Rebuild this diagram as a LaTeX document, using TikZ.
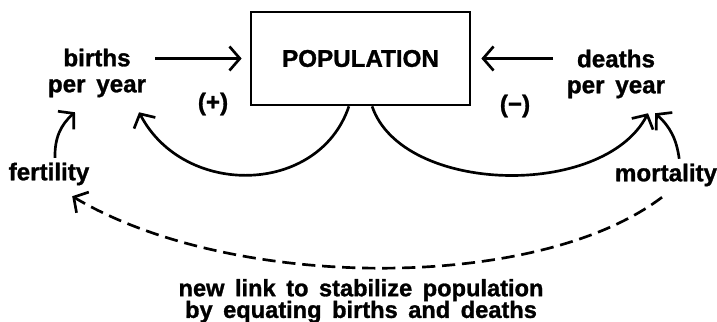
\documentclass[tikz,border=0pt]{standalone}
\usepackage{fontspec}
\setmainfont{Liberation Sans}[WordSpace=1.6, FakeBold=1.2]
\usetikzlibrary{arrows.meta}

\begin{document}
\begin{tikzpicture}[x=0.025cm, y=-0.025cm,
	every node/.style={font=\bfseries\fontsize{17.2}{18.5}\selectfont, align=center},
	link/.style={line width=1.9pt, -{Straight Barb[length=2.6mm, width=6mm]}}]
	\useasboundingbox (0,0) rectangle (717,322);
	\node[draw, line width=1.9pt, minimum width=5.475cm, minimum height=2.325cm, inner sep=0pt] (pop) at (360.5,58.5) {POPULATION};
	\node (births) at (97,73) {births\\per year};
	\node (deaths) at (616,74) {deaths\\per year};
	\node (fertility) at (49,174) {fertility};
	\node (mortality) at (666,175) {mortality};
	\node (plus) at (213,104) {(+)};
	\node (minus) at (515,106) {(−)};
	\node[font=\bfseries\fontsize{16.8}{18}\selectfont] (newlink) at (361,301) {new link to stabilize population\\[-2.6pt]by equating births and deaths};
	\draw[link] ([xshift=0.1cm]births.east |- pop.west) -- ([xshift=-0.2cm]pop.west);
	\draw[link] ([xshift=-0.22cm]deaths.west |- pop.east) -- ([xshift=0.25cm]pop.east);
	\draw[link] ([xshift=-0.29cm]pop.south) .. controls +(-30,89) and +(45,86) .. ([shift={(-0.3cm,-0.25cm)}]births.south east);
	\draw[link] ([xshift=0.29cm]pop.south) .. controls +(30,88) and +(-45,86) .. ([shift={(-0.55cm,-0.25cm)}]deaths.south east);
	\draw[link] ([xshift=0.15cm]fertility.north) to[bend left=25] ([shift={(-0.55cm,-0.25cm)}]births.south);
	\draw[link] ([xshift=0.33cm]mortality.north) to[bend right=20] ([shift={(0.98cm,-0.25cm)}]deaths.south);
	\draw[link, dash pattern=on 0.33cm off 0.17cm] ([shift={(-0.1cm,-0.15cm)}]mortality.south) .. controls +(-125,95) and +(160,95) .. ([shift={(0.58cm,-0.15cm)}]fertility.south);
\end{tikzpicture}
\end{document}
